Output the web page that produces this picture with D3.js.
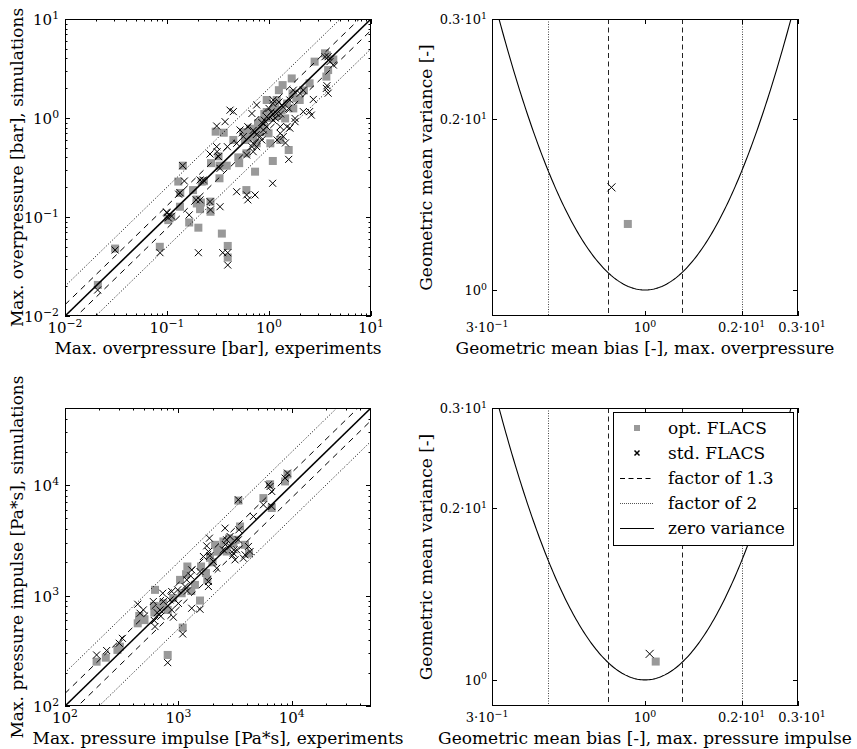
<!DOCTYPE html>
<html><head><meta charset="utf-8">
<script src="https://cdn.jsdelivr.net/npm/d3@7"></script>
<style>body{margin:0;background:#fff} text{font-family:"DejaVu Serif",serif;fill:#000}</style>
</head><body><svg id="c" width="857" height="749"></svg>
<script>
// ---------------- DATA ----------------
// [experiment, simulation] pairs, max. overpressure [bar]
const overpressureOpt = [[0.021,0.0206],[0.031,0.048],[0.085,0.050],[0.203,0.078],[0.345,0.068],[0.394,0.051],[0.394,0.039],[0.165,0.088],[0.103,0.093],[0.110,0.100],[0.106,0.097],[0.134,0.127],[0.129,0.228],[0.143,0.330],[0.180,0.187],[0.196,0.137],[0.211,0.120],[0.267,0.113],[0.267,0.143],[0.219,0.228],[0.327,0.246],[0.327,0.330],[0.270,0.350],[0.385,0.330],[0.320,0.410],[0.300,0.728],[0.360,0.710],[0.510,0.350],[0.500,0.400],[0.600,0.440],[0.730,0.287],[0.600,0.187],[1.090,0.368],[1.560,0.475],[0.560,0.720],[0.650,0.780],[0.700,0.650],[0.820,0.720],[0.780,0.883],[0.950,1.520],[1.190,1.520],[1.250,1.910],[1.360,2.150],[1.670,2.510],[1.700,1.770],[1.850,1.580],[2.000,1.520],[2.500,2.240],[2.800,3.710],[3.540,4.500],[3.650,2.620],[3.800,3.050],[4.270,3.900],[1.100,1.200],[1.330,1.200],[1.440,0.990],[1.730,1.250],[0.990,0.700],[1.030,0.555],[1.290,0.600],[0.757,0.555],[0.580,0.600],[0.447,0.600],[0.230,0.230],[0.135,0.175],[0.195,0.150],[0.215,0.140],[0.85,0.95],[0.90,1.10],[1.50,1.40],[2.20,1.90],[3.70,4.30],[0.62,0.62],[0.66,0.70],[0.75,0.75],[0.80,0.85],[0.90,0.80],[1.05,1.00],[1.15,1.30],[1.20,1.05],[0.95,1.15]];
const overpressureStd = [[0.0209,0.0183],[0.031,0.0464],[0.0853,0.0436],[0.203,0.0436],[0.352,0.0436],[0.394,0.0436],[0.394,0.0327],[0.415,1.20],[0.307,0.83],[0.371,0.918],[0.1426,0.330],[0.148,0.231],[0.134,0.176],[0.130,0.170],[0.099,0.112],[0.111,0.102],[0.193,0.149],[0.211,0.149],[0.264,0.143],[0.267,0.118],[0.331,0.127],[0.165,0.105],[0.211,0.2366],[0.227,0.2366],[0.264,0.433],[0.307,0.513],[0.310,0.457],[0.331,0.310],[0.320,0.407],[0.391,0.513],[0.482,0.555],[0.482,0.180],[0.604,0.167],[0.730,0.167],[0.620,0.149],[1.086,0.219],[1.56,0.382],[0.604,0.423],[0.52,0.757],[0.56,0.65],[0.70,0.555],[0.68,0.513],[0.757,1.353],[0.95,1.03],[1.19,1.11],[1.09,1.405],[1.10,1.52],[1.38,1.29],[1.56,1.25],[1.73,1.91],[2.01,1.77],[1.60,1.52],[1.50,0.817],[1.29,0.70],[1.38,0.65],[1.60,0.79],[1.80,0.918],[2.17,1.16],[2.72,1.54],[2.17,1.91],[2.50,1.16],[2.60,1.07],[3.54,4.16],[3.80,4.16],[3.96,3.71],[4.27,3.43],[3.65,1.99],[3.80,1.78],[3.70,2.12],[1.80,0.99],[1.29,0.817],[0.95,0.817],[0.88,0.757],[0.82,0.65],[0.70,0.457],[1.10,0.95],[0.62,0.817],[0.447,1.16],[0.757,0.513],[0.68,1.11],[1.20,0.60],[1.45,0.56],[1.00,1.25],[0.85,0.60],[0.100,0.110],[0.103,0.098],[0.70,0.75],[0.75,0.68],[0.90,0.95],[1.05,1.15],[1.15,1.00],[1.25,1.45],[1.30,1.10],[0.85,0.90]];
// [experiment, simulation] pairs, max. pressure impulse [Pa*s]
const impulseOpt = [[190,252],[229,274],[305,345],[290,322],[438,561],[501,611],[452,654],[622,1127],[610,807],[614,702],[737,853],[805,742],[1069,1050],[1035,1388],[1200,1834],[1169,1563],[1585,1834],[1552,902],[1092,513],[805,290],[2107,2884],[2495,3090],[2667,2506],[3055,2985],[3500,4226],[3870,2884],[3381,7250],[5623,7638],[6660,6210],[8730,10810],[9160,12500],[6440,10200],[640,760],[700,800],[1300,1100],[1750,1600],[1900,2200],[2200,2500],[2800,3300],[3200,3200],[2300,2700],[1400,1250],[1800,1400],[900,950],[2000,2000],[4200,2400],[500,600],[450,600]];
const impulseStd = [[190,290],[233,318],[301,370],[321,410],[438,835],[459,692],[491,742],[601,883],[622,524],[614,594],[689,742],[737,883],[728,1050],[844,914],[873,742],[903,637],[873,1089],[986,1127],[1145,1208],[1185,1388],[1311,1710],[1284,1509],[1552,1652],[1552,752],[1311,768],[1092,449],[805,247],[1663,2259],[1840,2506],[1778,2822],[1878,3311],[1840,1340],[1840,1208],[2037,2037],[2178,1770],[2667,3200],[2857,2786],[2495,2596],[3055,2421],[3266,2596],[3381,3200],[3420,3944],[2857,3430],[3162,2108],[3870,2339],[4147,2786],[4287,2506],[3748,2181],[3381,7378],[4590,5210],[5623,6640],[6222,10090],[6440,9730],[6660,8770],[6660,6414],[8730,11590],[9160,12860],[2580,4080],[650,700],[700,650],[1000,850],[1200,1100],[1900,2300],[2600,2900],[3000,2300],[3100,2600]];
// [geometric mean bias MG, geometric mean variance VG]
const mgvgOverpressureOpt = [0.884, 1.307];
const mgvgOverpressureStd = [0.786, 1.516];
const mgvgImpulseOpt = [1.080, 1.077];
const mgvgImpulseStd = [1.034, 1.111];
const factors = [1.3, 2];
// ticks
const overpressureTicks = [0.01, 0.1, 1, 10];
const overpressureTickLabels = [["10","−2"],["10","−1"],["10","0"],["10","1"]];
const impulseTicks = [100, 1000, 10000];
const impulseTickLabels = [["10","2"],["10","3"],["10","4"]];
const biasTicks = [1/3, 1, 2, 3];
const biasTickLabels = [["3·10","−1"],["10","0"],["0.2·10","1"],["0.3·10","1"]];
const varTicks = [1, 2, 3];
const varTickLabels = [["10","0"],["0.2·10","1"],["0.3·10","1"]];
const legendLabels = ["opt. FLACS","std. FLACS","factor of 1.3","factor of 2","zero variance"];

// ---------------- DRAW ----------------
const svg = d3.select("#c");
const defs = svg.append("defs");
const GRAY = "#999999";
const LABEL_SIZE = 17, TICK_SIZE = 15, TICK_SIZE2 = 13;

function label(g, x, y, parts, size, anchor) {
  const t = g.append("text").attr("x", x).attr("y", y).attr("font-size", size).attr("text-anchor", anchor);
  t.append("tspan").text(parts[0]);
  if (parts[1] !== undefined) t.append("tspan").attr("dy", -0.42*size).attr("font-size", 0.72*size).text(parts[1]);
  return t;
}

let clipId = 0;
function makePanel(box, xDomain, yDomain) {
  const x = d3.scaleLog().domain(xDomain).range([box.x0, box.x1]);
  const y = d3.scaleLog().domain(yDomain).range([box.y1, box.y0]);
  const id = "clip" + (clipId++);
  defs.append("clipPath").attr("id", id).append("rect")
    .attr("x", box.x0).attr("y", box.y0).attr("width", box.x1-box.x0).attr("height", box.y1-box.y0);
  const g = svg.append("g");
  const plot = g.append("g").attr("clip-path", `url(#${id})`);
  return {x, y, g, plot, box};
}

function frame(p, xMajor, xMinor, yMajor, yMinor, MAJ, MIN) {
  const {x, y, g, box} = p;
  const t = g.append("g").attr("stroke", "#000").attr("stroke-width", 1);
  xMajor.forEach(v => { const px = Math.round(x(v))+0.5;
    t.append("line").attr("x1",px).attr("x2",px).attr("y1",box.y1).attr("y2",box.y1-MAJ);
    t.append("line").attr("x1",px).attr("x2",px).attr("y1",box.y0).attr("y2",box.y0+MAJ); });
  xMinor.forEach(v => { const px = Math.round(x(v))+0.5;
    t.append("line").attr("x1",px).attr("x2",px).attr("y1",box.y1).attr("y2",box.y1-MIN);
    t.append("line").attr("x1",px).attr("x2",px).attr("y1",box.y0).attr("y2",box.y0+MIN); });
  yMajor.forEach(v => { const py = Math.round(y(v))+0.5;
    t.append("line").attr("y1",py).attr("y2",py).attr("x1",box.x0).attr("x2",box.x0+MAJ);
    t.append("line").attr("y1",py).attr("y2",py).attr("x1",box.x1).attr("x2",box.x1-MAJ); });
  yMinor.forEach(v => { const py = Math.round(y(v))+0.5;
    t.append("line").attr("y1",py).attr("y2",py).attr("x1",box.x0).attr("x2",box.x0+MIN);
    t.append("line").attr("y1",py).attr("y2",py).attr("x1",box.x1).attr("x2",box.x1-MIN); });
  g.append("rect").attr("x", box.x0+0.5).attr("y", box.y0+0.5)
    .attr("width", box.x1-box.x0-1).attr("height", box.y1-box.y0-1)
    .attr("fill","none").attr("stroke","#000").attr("stroke-width",1);
}

function minors(lo, hi) {
  const out = [];
  for (let e = Math.floor(Math.log10(lo)); e <= Math.ceil(Math.log10(hi)); e++)
    for (let m = 2; m <= 9; m++) { const v = m*Math.pow(10,e); if (v > lo && v < hi) out.push(v); }
  return out;
}

function squares(p, data, s) {
  p.plot.append("g").selectAll("rect").data(data).join("rect")
    .attr("x", d => p.x(d[0]) - s/2).attr("y", d => p.y(d[1]) - s/2)
    .attr("width", s).attr("height", s).attr("fill", GRAY);
}
function crosses(p, data, r) {
  p.plot.append("g").selectAll("path").data(data).join("path")
    .attr("transform", d => `translate(${p.x(d[0])},${p.y(d[1])})`)
    .attr("d", `M${-r},${-r}L${r},${r}M${-r},${r}L${r},${-r}`)
    .attr("stroke", "#000").attr("stroke-width", 1).attr("fill", "none");
}

function scatterPanel(box, dom, opt, std, ticks, tickLabels, xLab, yLab) {
  const p = makePanel(box, dom, dom);
  squares(p, opt, 8);
  crosses(p, std, 3.5);
  const line = d3.line().x(d => p.x(d[0])).y(d => p.y(d[1]));
  const styles = [{f:1, dash:null, w:1.6}];
  factors.forEach((f, i) => {
    const dash = i === 0 ? "6,5" : "1,2";
    styles.push({f:f, dash, w:1}, {f:1/f, dash, w:1});
  });
  styles.forEach(s => {
    p.plot.append("path").datum([[dom[0], dom[0]*s.f],[dom[1], dom[1]*s.f]])
      .attr("d", line).attr("fill","none").attr("stroke","#000")
      .attr("stroke-width", s.w).attr("stroke-dasharray", s.dash);
  });
  frame(p, ticks, minors(dom[0], dom[1]), ticks, minors(dom[0], dom[1]), 5, 2.5);
  ticks.forEach((v, i) => {
    label(p.g, p.x(v), box.y1 + 17, tickLabels[i], TICK_SIZE, "middle");
    label(p.g, box.x0 - 6, p.y(v) + 6, tickLabels[i], TICK_SIZE, "end");
  });
  p.g.append("text").attr("x", (box.x0+box.x1)/2).attr("y", box.y1 + 38)
    .attr("font-size", LABEL_SIZE).attr("text-anchor","middle").text(xLab);
  p.g.append("text").attr("transform", `translate(23,${(box.y0+box.y1)/2}) rotate(-90)`)
    .attr("font-size", LABEL_SIZE).attr("text-anchor","middle").text(yLab);
  return p;
}

function mgvgPanel(box, opt, std, xLab, yLab) {
  const p = makePanel(box, [1/3, 3], [0.9, 3]);
  factors.forEach((f, i) => {
    const dash = i === 0 ? "5,3.5" : "1,1.5";
    [f, 1/f].forEach(v => {
      const px = Math.round(p.x(v)) + 0.5;
      p.plot.append("line").attr("x1", px).attr("x2", px).attr("y1", box.y0).attr("y2", box.y1)
        .attr("stroke", i === 0 ? "#222" : "#444").attr("stroke-width", 1).attr("stroke-dasharray", dash);
    });
  });
  // zero-variance curve: ln VG = (ln MG)^2
  const mg = d3.range(0, 201).map(i => Math.exp(Math.log(1/3) + i/200*(Math.log(3)-Math.log(1/3))));
  const curve = mg.map(m => [m, Math.exp(Math.log(m)**2)]);
  p.plot.append("path").datum(curve)
    .attr("d", d3.line().x(d => p.x(d[0])).y(d => p.y(d[1])))
    .attr("fill","none").attr("stroke","#000").attr("stroke-width",1.1);
  squares(p, [opt], 8);
  crosses(p, [std], 4);
  frame(p, biasTicks, [], varTicks, [], 5, 2.5);
  biasTicks.forEach((v, i) => label(p.g, p.x(v) - (i===0?5:0) + (i===3?4:0), box.y1 + 16, biasTickLabels[i], TICK_SIZE2, "middle"));
  varTicks.forEach((v, i) => label(p.g, box.x0 - 5, p.y(v) + 5, varTickLabels[i], TICK_SIZE2, "end"));
  p.g.append("text").attr("x", (box.x0+box.x1)/2).attr("y", box.y1 + 38)
    .attr("font-size", LABEL_SIZE).attr("text-anchor","middle").text(xLab);
  p.g.append("text").attr("transform", `translate(432,${(box.y0+box.y1)/2}) rotate(-90)`)
    .attr("font-size", LABEL_SIZE).attr("text-anchor","middle").text(yLab);
  return p;
}

const B1 = {x0:65, x1:371, y0:19, y1:316};
const B2 = {x0:492, x1:798, y0:19, y1:316};
const B3 = {x0:65, x1:371, y0:408, y1:706};
const B4 = {x0:492, x1:798, y0:408, y1:706};

scatterPanel(B1, [0.01, 10], overpressureOpt, overpressureStd, overpressureTicks, overpressureTickLabels,
  "Max. overpressure [bar], experiments", "Max. overpressure [bar], simulations");
scatterPanel(B3, [100, 50000], impulseOpt, impulseStd, impulseTicks, impulseTickLabels,
  "Max. pressure impulse [Pa*s], experiments", "Max. pressure impulse [Pa*s], simulations");
mgvgPanel(B2, mgvgOverpressureOpt, mgvgOverpressureStd,
  "Geometric mean bias [-], max. overpressure", "Geometric mean variance [-]");
mgvgPanel(B4, mgvgImpulseOpt, mgvgImpulseStd,
  "Geometric mean bias [-], max. pressure impulse", "Geometric mean variance [-]");

// legend
const lg = svg.append("g");
const L = {x0:613, y0:412, x1:793, y1:545};
lg.append("rect").attr("x", L.x0+0.5).attr("y", L.y0+0.5).attr("width", L.x1-L.x0).attr("height", L.y1-L.y0)
  .attr("fill","#fff").attr("stroke","#000").attr("stroke-width",1);
const rowY = i => L.y0 + 16 + i*25;
const hx0 = 620, hx1 = 654, hxm = 637, tx = 668;
lg.append("rect").attr("x", hxm-3).attr("y", rowY(0)-3).attr("width",6).attr("height",6).attr("fill",GRAY);
lg.append("path").attr("d", `M${hxm-2.5},${rowY(1)-2.5}L${hxm+2.5},${rowY(1)+2.5}M${hxm-2.5},${rowY(1)+2.5}L${hxm+2.5},${rowY(1)-2.5}`)
  .attr("stroke","#000").attr("stroke-width",1.5);
lg.append("line").attr("x1",hx0).attr("x2",hx1).attr("y1",rowY(2)+0.5).attr("y2",rowY(2)+0.5)
  .attr("stroke","#000").attr("stroke-dasharray","5,3.5");
lg.append("line").attr("x1",hx0).attr("x2",hx1).attr("y1",rowY(3)+0.5).attr("y2",rowY(3)+0.5)
  .attr("stroke","#555").attr("stroke-dasharray","1,1");
lg.append("line").attr("x1",hx0).attr("x2",hx1).attr("y1",rowY(4)+0.5).attr("y2",rowY(4)+0.5)
  .attr("stroke","#000");
legendLabels.forEach((s, i) => lg.append("text").attr("x", tx).attr("y", rowY(i) + 6)
  .attr("font-size", LABEL_SIZE).text(s));
</script></body></html>
